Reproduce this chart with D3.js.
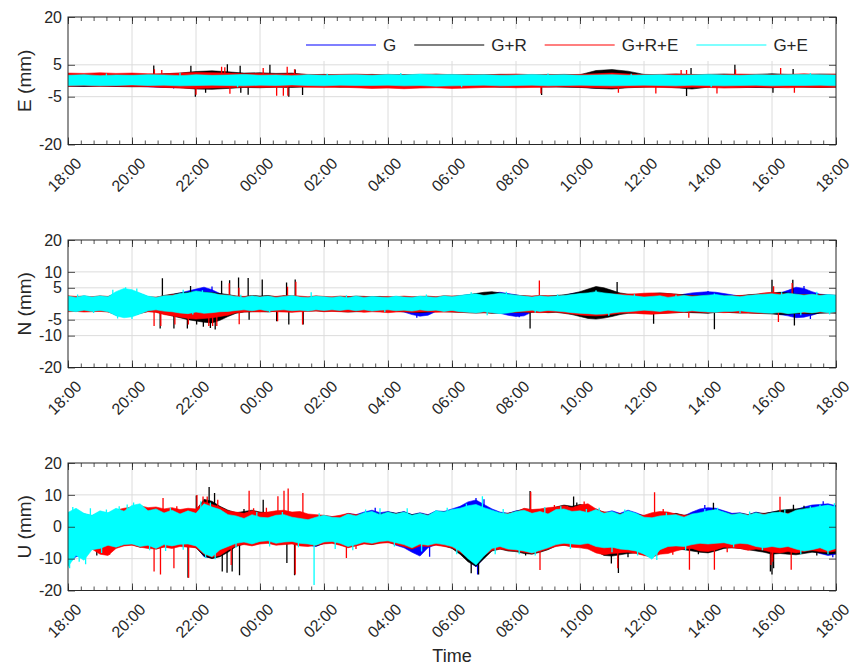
<!DOCTYPE html>
<html>
<head>
<meta charset="utf-8">
<script src="https://cdn.jsdelivr.net/npm/d3@7/dist/d3.min.js"></script>
<style>
  body { margin: 0; background: #ffffff; }
  svg text { font-family: "Liberation Sans", Arial, Helvetica, sans-serif; fill: #262626; }
  .tick text { font-size: 16px; }
</style>
</head>
<body>
<svg id="chart" width="860" height="665"></svg>
<script>
// ---- Time axis (hours after 18:00) ----
const timeLabels = ["18:00","20:00","22:00","00:00","02:00","04:00","06:00",
                    "08:00","10:00","12:00","14:00","16:00","18:00"];
const seriesNames = ["G", "G+R", "G+R+E", "G+E"];
const seriesColors = ["#0000ff", "#000000", "#ff0000", "#00ffff"];

const E_yTicks = [-20, -5, 5, 20];
const N_yTicks = [-20, -10, -5, 5, 10, 20];
const U_yTicks = [-20, -10, 0, 10, 20];

// Each series: per-interval maximum / minimum (mm) over the 24 h window,
// plus individual excursions [hour, mm].

// ---- E component (30-min steps) ----
const E_G_hi   = [1.6,1.7,1.5,1.6,1.6,1.7,1.6,1.5,1.7,1.6,1.6,1.8,1.6,1.7,1.5,1.6,1.6,1.7,1.6,1.6,1.8,1.7,1.9,1.7,1.8,1.7,1.7,1.6,1.7,1.8,1.7,1.7,1.6,1.7,1.8,1.6,1.7,1.7,1.6,1.7,1.8,1.7,1.6,1.8,1.7,1.7,1.8,1.8,1.7];
const E_G_lo   = [-1.6,-1.7,-1.6,-1.8,-1.7,-1.9,-2.1,-2.0,-1.8,-1.9,-1.8,-1.7,-1.8,-1.7,-1.6,-1.8,-1.7,-1.8,-1.9,-1.7,-1.8,-1.7,-1.9,-1.8,-1.7,-1.8,-1.9,-1.8,-1.7,-1.8,-1.9,-1.8,-2.0,-2.3,-2.1,-1.8,-1.7,-1.9,-1.8,-1.7,-1.8,-1.7,-2.0,-2.1,-1.9,-1.8,-1.7,-1.9,-1.8];
const E_GR_hi  = [1.5,1.6,1.5,1.6,1.5,1.7,2.2,2.4,2.9,3.1,2.8,2.4,2.5,2.3,2.4,1.9,2.0,1.8,1.9,2.0,1.8,1.9,1.8,2.0,1.9,1.8,1.9,2.0,1.9,1.8,1.9,2.0,1.9,3.2,3.5,3.0,2.0,1.9,2.1,1.9,2.0,2.1,1.9,2.0,2.2,2.0,1.9,2.1,2.0];
const E_GR_lo  = [-1.7,-1.8,-1.7,-1.8,-1.9,-1.8,-2.0,-2.2,-2.6,-2.7,-2.4,-2.1,-2.2,-2.0,-2.1,-1.9,-1.8,-2.0,-1.9,-1.8,-1.9,-2.0,-1.8,-1.9,-2.0,-1.9,-1.8,-2.0,-1.9,-1.8,-1.9,-2.0,-2.1,-2.4,-2.6,-2.2,-2.0,-1.9,-2.2,-2.6,-2.0,-1.9,-2.0,-2.1,-2.2,-1.9,-2.0,-2.1,-2.0];
const E_GRE_hi = [2.4,2.3,2.5,2.3,2.4,2.2,2.2,2.4,2.6,2.5,2.4,2.2,2.3,2.1,2.2,2.0,1.9,2.0,2.1,1.9,2.0,1.9,2.0,2.1,1.9,2.0,1.9,2.0,2.1,1.9,2.0,1.9,2.0,2.2,2.4,2.1,1.9,2.0,2.1,2.0,1.9,2.0,2.1,2.0,1.9,2.0,2.2,2.0,2.1];
const E_GRE_lo = [-1.7,-1.6,-1.8,-1.7,-1.8,-1.9,-2.1,-2.3,-2.4,-2.3,-2.2,-2.0,-2.1,-2.0,-1.9,-2.0,-2.1,-2.0,-2.2,-2.4,-2.3,-2.5,-2.3,-2.2,-2.4,-2.3,-2.1,-2.0,-2.2,-2.1,-2.0,-1.9,-2.0,-2.2,-2.3,-2.1,-2.0,-2.1,-2.2,-2.0,-2.1,-2.3,-2.2,-2.0,-2.1,-2.2,-2.0,-2.1,-2.0];
const E_GE_hi  = [1.7,1.9,1.6,1.8,1.7,1.9,1.8,1.6,1.9,1.7,1.8,2.0,1.7,1.8,1.6,1.9,1.7,1.8,1.9,1.7,2.0,1.8,2.1,1.9,2.0,1.8,1.9,1.7,1.8,2.0,1.8,1.9,1.7,1.8,1.9,1.7,1.8,1.9,1.7,1.8,2.0,1.8,1.7,1.9,1.8,1.9,2.0,1.9,1.8];
const E_GE_lo  = [-1.5,-1.4,-1.6,-1.5,-1.3,-1.5,-1.4,-1.6,-1.5,-1.4,-1.5,-1.6,-1.4,-1.5,-1.3,-1.5,-1.6,-1.4,-1.5,-1.5,-1.4,-1.6,-1.5,-1.7,-1.6,-1.5,-1.4,-1.6,-1.5,-1.4,-1.6,-1.5,-1.4,-1.5,-1.6,-1.5,-1.4,-1.5,-1.6,-1.4,-1.5,-1.6,-1.5,-1.4,-1.6,-1.5,-1.5,-1.4,-1.6];
const E_G_spk   = [[3.3,-2.4],[16.9,-2.6],[21.2,-2.3]];
const E_GR_spk  = [[2.68,4.8],[3.84,4.7],[3.98,-5.0],[4.3,-3.8],[4.98,5.2],[5.38,4.7],[5.4,-3.8],[5.63,-4.4],[6.31,5.0],[6.9,-5.0],[7.1,3.5],[7.33,-4.5],[14.8,-4.5],[19.33,-4.8],[19.47,4.0],[20.84,5.0],[22.03,-3.8],[22.66,3.7]];
const E_GRE_spk = [[2.7,3.6],[2.93,3.4],[4.0,-4.4],[4.8,4.4],[4.9,4.2],[5.06,-4.1],[6.1,4.0],[6.52,-4.7],[6.73,-4.7],[6.85,4.4],[6.87,-4.7],[7.08,3.6],[14.78,-4.0],[17.2,-3.8],[18.37,-4.0],[19.16,3.4],[19.33,3.4],[20.28,-4.0],[20.86,3.5],[22.27,4.0],[22.7,-3.8]];
const E_GE_spk  = [[1.2,2.3],[3.5,2.4],[5.3,-2.0],[8.1,2.2],[10.4,2.4],[12.3,-2.0],[15.0,2.3],[17.6,2.2],[20.1,-2.0],[23.2,2.4]];

// ---- N component (15-min steps) ----
const N_G_hi   = [2.2,1.9,2.4,2.0,2.3,2.1, 3.4,4.2,4.0,3.2, 2.2,1.9,2.3, 2.8,3.4,4.0,4.6,5.2,4.4,3.2,2.6,
                  2.1,1.9,2.3,2.0,2.2,1.9,2.1,2.4,2.0,1.9,2.2,2.1, 1.9,2.1,1.8,2.2,1.9,2.2,2.0,1.9,2.3,2.0,1.9,2.2,2.1,1.9,2.3,2.1,
                  2.5,2.8,3.0,3.2,3.4,3.6,3.2,2.8, 2.3,2.0,2.4,2.1,2.3,2.6,3.2,3.6, 4.2,4.6,4.0,3.4,2.8,2.5,
                  2.3,2.0,2.2,2.4,2.0,2.4,3.0,3.4,3.6,3.8, 3.6,3.2,2.8,2.4, 2.6,2.8,3.0,3.0,3.4,4.2,5.2,4.8,3.8,3.0,2.8,2.6];
const N_G_lo   = [-2.0,-2.3,-1.9,-2.2,-2.0,-2.3, -3.6,-4.0,-3.8,-3.0, -2.0,-1.8,-2.2, -2.4,-2.7,-3.0,-3.2,-3.4,-3.0,-2.6,-2.3,
                  -2.0,-1.8,-2.1,-1.8,-2.2,-1.9,-1.8,-2.1,-1.9,-2.2,-1.8,-2.0, -1.8,-2.0,-1.8,-2.1,-1.8,-2.2,-2.0,-1.9,-2.2,-2.6,-3.4,-3.9,-3.6,-2.4,-2.3,-2.0,
                  -2.4,-2.6,-2.8,-2.6,-2.8,-3.0,-3.6,-4.0, -3.8,-2.6,-2.3,-2.0,-2.2,-2.4,-2.8,-3.0, -3.4,-3.6,-3.4,-2.8,-2.5,-2.4,
                  -2.2,-1.9,-2.1,-2.3,-1.9,-2.2,-2.4,-2.6,-2.7,-2.8, -2.6,-2.3,-2.3,-2.1, -2.4,-2.6,-2.8,-3.0,-3.4,-3.8,-4.4,-4.2,-3.6,-2.8,-2.8,-2.5];
const N_GR_hi  = [1.9,2.1,1.8,2.0,1.9,2.2, 3.0,3.4,3.2,2.8, 2.0,1.9,2.6, 3.0,3.4,3.6,3.8,3.6,3.5,3.2,2.9,
                  2.4,2.2,2.6,2.4,2.6,2.2,2.5,2.3,2.2,2.0,2.3,2.1, 2.0,2.3,2.2,2.4,2.3,2.2,2.3,2.1,2.0,2.2,2.1,2.2,2.3,2.1,2.4,2.3,
                  2.5,2.8,3.2,3.6,3.8,3.4,2.9,2.7, 2.5,2.3,2.5,2.4,2.6,2.8,3.2,3.8, 4.6,5.4,5.0,4.2,3.4,3.0,
                  2.9,3.0,3.2,3.4,3.2,3.0,2.8,2.6,2.5,2.6, 2.4,2.5,2.4,2.5, 2.8,3.0,3.2,3.4,3.6,3.4,3.0,2.9,2.8,2.9,2.7,2.6];
const N_GR_lo  = [-2.2,-2.4,-2.1,-2.3,-2.2,-2.5, -3.4,-3.8,-3.6,-3.0, -2.4,-2.6,-3.2, -3.8,-4.4,-5.0,-5.4,-5.8,-6.0,-5.2,-4.0,
                  -3.0,-2.6,-2.5,-2.4,-2.6,-2.3,-2.4,-2.5,-2.2,-2.3,-2.2,-2.4, -2.3,-2.4,-2.6,-2.5,-2.4,-2.2,-2.3,-2.2,-2.4,-2.5,-2.6,-2.8,-2.6,-2.4,-2.5,-2.6,
                  -2.7,-2.8,-2.9,-2.8,-3.0,-2.9,-2.8,-2.7, -2.6,-2.7,-2.6,-2.8,-2.7,-3.0,-3.4,-4.0, -4.6,-4.8,-4.5,-4.0,-3.4,-3.0,
                  -2.9,-3.0,-3.1,-3.0,-2.9,-2.8,-2.7,-2.8,-2.9,-3.0, -2.7,-2.6,-2.8,-2.9, -2.9,-3.0,-3.1,-3.2,-3.4,-3.3,-3.0,-3.1,-3.2,-3.0,-2.9,-3.0];
const N_GRE_hi = [2.5,2.3,2.4,2.2,2.5,2.3, 3.2,3.6,3.4,3.0, 2.2,2.1,2.5, 2.8,3.0,3.2,3.0,3.3,3.1,2.9,2.7,
                  2.4,2.3,2.5,2.2,2.4,2.3,2.5,2.6,2.4,2.2,2.5,2.3, 2.2,2.4,2.3,2.2,2.3,2.1,2.2,2.3,2.2,2.4,2.2,2.3,2.4,2.2,2.5,2.4,
                  2.5,2.6,2.7,2.6,2.8,2.9,2.7,2.6, 2.5,2.4,2.6,2.5,2.4,2.6,2.8,3.0, 3.0,3.1,2.9,3.0,3.1,3.0,
                  3.1,3.3,3.4,3.3,3.2,3.0,2.6,2.5,2.4,2.5, 2.6,2.4,2.5,2.6, 2.7,2.9,3.4,3.6,3.2,3.0,2.9,2.8,2.9,2.8,2.7,2.6];
const N_GRE_lo = [-2.5,-2.4,-2.6,-2.5,-2.4,-2.6, -3.4,-3.6,-3.5,-3.0, -2.5,-2.7,-3.4, -3.8,-4.2,-4.6,-4.8,-4.6,-4.4,-4.0,-3.6,
                  -2.8,-2.6,-2.5,-2.6,-2.4,-2.5,-2.6,-2.7,-2.5,-2.4,-2.3,-2.5, -2.4,-2.5,-2.6,-2.4,-2.7,-2.5,-2.6,-2.8,-2.6,-2.5,-2.7,-2.6,-2.5,-2.7,-2.6,-2.6,
                  -2.7,-2.8,-2.9,-2.8,-2.9,-2.8,-2.7,-2.7, -2.6,-2.7,-2.8,-2.7,-2.6,-2.9,-3.2,-3.5, -3.7,-3.8,-3.6,-3.3,-3.0,-2.9,
                  -3.0,-3.2,-3.3,-3.1,-3.0,-2.8,-2.7,-2.6,-2.7,-2.8, -2.7,-2.8,-2.7,-2.9, -2.9,-3.0,-3.0,-2.9,-2.8,-2.9,-2.8,-2.9,-2.8,-2.7,-2.8,-2.7];
const N_GE_hi  = [2.4,2.0,2.6,2.1,2.5,2.2, 3.8,4.8,4.4,3.4, 2.4,2.0,2.5, 2.6,3.2,3.4,4.0,3.6,3.4,2.8,2.7,
                  2.3,2.0,2.5,2.1,2.4,2.0,2.3,2.6,2.1,2.0,2.4,2.2, 2.0,2.3,1.9,2.4,2.0,2.3,2.1,2.0,2.4,2.1,2.0,2.4,2.2,2.0,2.5,2.2,
                  2.6,2.9,3.1,2.6,2.9,3.3,3.0,2.7, 2.4,2.1,2.5,2.2,2.4,2.6,2.9,3.2, 3.4,3.8,3.4,3.1,2.8,2.6,
                  2.4,2.1,2.3,2.5,2.0,2.3,2.6,2.3,2.5,2.7, 2.9,2.5,2.5,2.2, 2.6,2.8,3.0,3.1,2.8,3.3,3.0,2.7,3.0,2.6,2.9,2.7];
const N_GE_lo  = [-2.2,-2.5,-2.0,-2.4,-2.1,-2.5, -3.8,-4.4,-4.1,-3.2, -2.2,-1.9,-2.3, -2.5,-2.9,-3.1,-2.6,-3.0,-2.8,-2.5,-2.4,
                  -2.1,-1.9,-2.2,-1.8,-2.3,-2.0,-1.9,-2.2,-2.0,-2.3,-1.9,-2.1, -1.9,-2.1,-1.8,-2.2,-1.9,-2.3,-2.0,-1.9,-2.2,-2.0,-2.3,-1.9,-2.2,-2.0,-2.4,-2.1,
                  -2.5,-2.7,-2.9,-2.5,-2.8,-3.1,-2.9,-2.5, -2.3,-2.0,-2.4,-2.1,-2.3,-2.5,-2.8,-3.0, -3.1,-3.3,-3.2,-2.9,-2.6,-2.5,
                  -2.3,-2.0,-2.2,-2.4,-2.0,-2.3,-2.5,-2.2,-2.4,-2.6, -2.7,-2.4,-2.4,-2.2, -2.5,-2.7,-2.9,-3.0,-2.7,-3.1,-2.9,-2.6,-2.9,-2.5,-2.8,-2.6];
const N_G_spk   = [[4.5,5.4],[10.9,-4.4],[14.1,-4.2],[16.7,4.8],[20.0,4.0],[23.0,5.6],[23.2,-4.8]];
const N_GR_spk  = [[2.95,8.0],[2.88,-7.8],[3.31,-7.8],[3.73,-7.8],[3.83,5.6],[4.02,-6.5],[4.23,-7.2],[4.45,-7.6],[4.6,-8.1],[4.8,7.2],[5.05,7.4],[5.33,8.2],[5.63,8.1],[5.66,-5.0],[6.07,7.6],[6.52,-5.5],[6.83,6.7],[6.9,-6.5],[7.1,7.6],[7.35,-6.5],[14.44,-7.8],[17.16,6.8],[18.3,-6.3],[20.2,-8.0],[22.0,7.5],[22.65,7.5],[22.7,-6.8]];
const N_GRE_spk = [[2.69,-7.0],[2.9,-7.0],[3.34,-6.5],[3.76,-6.5],[4.05,-4.3],[4.4,-7.0],[4.52,-7.0],[4.65,-7.0],[5.04,6.4],[5.34,5.0],[5.35,-6.4],[6.55,-5.5],[6.86,5.3],[7.12,6.9],[7.33,-6.5],[14.73,7.3],[19.4,-4.4],[22.05,5.5],[22.2,-5.7],[22.63,6.5]];
const N_GE_spk  = [[0.3,2.9],[0.8,-2.9],[1.4,4.4],[1.55,-4.6],[1.8,5.2],[2.0,-4.8],[2.15,4.8],[3.6,4.4],[3.9,-3.4],[4.2,4.2],[5.4,2.8],[6.3,-2.7],[7.6,3.6],[8.7,2.7],[9.9,-2.7],[11.2,2.9],[12.6,3.6],[13.1,-3.6],[13.7,3.8],[14.6,-2.8],[15.3,2.9],[16.5,4.2],[16.9,-3.8],[17.7,3.0],[19.0,2.8],[20.2,3.2],[21.0,-3.0],[22.3,3.6],[22.9,-3.6],[23.4,3.8],[23.8,-3.4]];

// ---- U component (15-min steps) ----
const U_G_hi   = [4.0,5.2,4.0,3.4,4.6,4.2,5.4,4.8,6.2, 6.6,4.8,5.2,4.2,4.8,4.0,4.6,4.4, 7.4,6.6,5.2,4.0,
                  3.6,3.0,3.8,3.4,3.0,3.4,3.6,3.2,2.8,2.6,3.0,3.4, 3.2,3.0,4.2,3.8,4.6,5.2,4.4,4.8,4.2,4.8,3.8,4.4,3.8,5.0,4.8,5.6,
                  6.4,7.8,8.4,7.0,5.6,4.6,4.2,5.0, 5.4,4.6,5.0,4.4,5.6,6.0,5.4,5.6, 4.8,5.6,4.4,5.0,4.2,5.2,4.4,3.4,
                  3.2,3.6,3.8,4.0,3.4,4.6,5.6,6.0, 5.8,5.0,4.2,4.4,3.8,4.6,4.0,4.6, 4.8,4.4,5.4,6.2,6.8,7.0,7.2,6.6];
const U_G_lo   = [-11.5,-9.4,-9.0,-7.0,-6.6,-6.0,-6.2,-5.6,-5.4, -6.0,-5.6,-6.6,-5.4,-6.0,-5.4,-5.4,-6.2, -9.4,-9.8,-8.0,-6.6,
                  -5.4,-5.0,-5.4,-4.8,-4.6,-5.4,-5.0,-4.8,-5.4,-5.8,-6.2,-5.2, -4.8,-5.4,-6.0,-5.8,-5.0,-5.4,-4.8,-4.6,-5.8,-6.6,-8.0,-9.2,-6.6,-5.6,-5.8,-6.4,
                  -8.0,-10.6,-12.6,-9.8,-7.2,-6.6,-7.2,-7.4, -7.8,-8.0,-7.6,-6.8,-5.8,-5.4,-5.6,-5.8, -5.6,-6.6,-7.0,-6.8,-7.2,-7.4,-7.8,-8.6,
                  -9.8,-7.6,-6.6,-6.4,-6.4,-5.8,-5.6,-5.8, -5.6,-5.2,-6.0,-6.0,-6.2,-7.0,-7.2,-6.6, -7.0,-6.6,-7.2,-7.8,-7.6,-8.4,-9.0,-8.6];
const U_GR_hi  = [4.2,5.0,3.8,3.2,4.4,3.8,5.0,5.2,5.8, 6.2,5.2,5.4,4.6,5.0,4.4,4.8,5.2, 8.6,8.0,6.4,5.2,
                  4.4,4.8,5.2,4.6,4.4,4.0,4.2,3.8,3.6,3.0,3.2,3.4, 3.0,3.2,4.0,3.6,4.2,4.4,3.8,4.6,4.2,4.6,3.8,4.2,3.6,4.8,4.6,5.0,
                  5.4,6.2,6.4,5.6,4.8,4.2,4.2,4.8, 5.6,5.2,5.4,5.6,6.2,6.8,6.4,7.0, 6.6,5.2,4.6,4.4,4.0,4.4,4.0,3.4,
                  3.6,4.0,3.8,4.2,3.6,3.8,4.2,4.8, 5.0,4.4,3.8,4.2,3.8,4.4,4.2,4.6, 5.2,5.4,5.6,5.8,6.0,5.8,6.2,6.0];
const U_GR_lo  = [-10.5,-8.6,-8.0,-6.6,-6.8,-6.2,-6.0,-5.8,-5.6, -6.4,-6.0,-7.0,-6.2,-6.4,-5.8,-6.0,-6.6, -9.2,-10.0,-9.4,-8.0,
                  -6.2,-5.4,-5.6,-5.0,-5.0,-5.6,-5.4,-5.2,-5.6,-5.8,-6.0,-5.2, -5.0,-5.6,-6.4,-5.8,-5.2,-5.6,-5.0,-4.8,-5.4,-6.0,-7.0,-5.8,-6.0,-5.6,-6.0,-6.8,
                  -8.6,-11.0,-12.4,-10.0,-7.6,-7.0,-7.6,-7.8, -8.4,-8.6,-8.0,-7.2,-6.0,-5.8,-6.0,-6.2, -6.4,-7.6,-9.0,-9.2,-8.8,-8.4,-8.2,-8.8,
                  -9.4,-8.2,-7.8,-7.0,-7.2,-7.6,-8.0,-8.2, -7.6,-6.8,-6.6,-6.8,-7.2,-7.6,-8.0,-8.6, -8.4,-8.6,-8.8,-8.4,-8.0,-8.2,-8.6,-8.4];
const U_GRE_hi = [4.0,4.6,4.0,3.4,4.6,4.0,5.2,5.8,6.2, 6.6,6.0,6.2,5.6,6.0,5.4,5.8,5.6, 7.8,7.0,6.2,5.0,
                  4.6,4.2,5.0,4.4,4.6,5.0,5.2,4.6,4.8,4.0,3.8,3.6, 3.2,3.6,4.2,3.8,4.0,4.2,3.6,4.2,4.0,4.4,3.4,4.0,3.6,4.4,4.2,4.8,
                  4.8,5.4,5.6,5.2,4.6,4.0,4.2,4.6, 5.8,5.4,5.6,6.0,6.2,6.6,6.0,6.8, 7.2,5.6,4.6,4.4,4.0,4.2,3.8,3.6,
                  4.4,4.8,4.6,4.0,3.6,3.8,4.0,4.4, 4.6,4.2,3.8,4.0,3.8,4.2,4.0,4.2, 4.4,4.2,4.8,5.0,5.4,5.2,5.6,5.4];
const U_GRE_lo = [-9.5,-8.4,-8.0,-7.0,-8.6,-9.0,-6.8,-6.0,-5.8, -6.4,-6.8,-7.0,-6.4,-6.8,-6.2,-6.4,-6.6, -8.6,-9.6,-9.0,-7.4,
                  -6.0,-5.6,-6.0,-5.4,-5.2,-5.8,-5.6,-5.4,-6.0,-6.2,-5.8,-5.4, -5.2,-5.8,-6.6,-6.0,-5.4,-5.6,-5.2,-5.0,-5.6,-6.2,-7.0,-6.0,-6.2,-5.8,-6.2,-6.6,
                  -8.0,-9.6,-10.4,-9.0,-7.4,-7.0,-7.4,-7.6, -8.0,-8.4,-7.8,-7.0,-6.2,-5.8,-6.4,-6.6, -7.0,-8.2,-8.8,-8.4,-8.2,-8.0,-8.4,-9.0,
                  -9.6,-8.6,-8.4,-7.6,-7.0,-6.8,-7.6,-7.8, -7.2,-6.4,-6.6,-6.8,-7.4,-7.0,-7.4,-8.0, -8.2,-7.8,-8.2,-7.8,-7.4,-7.8,-8.0,-7.6];
const U_GE_hi  = [4.5,5.8,4.2,3.6,5.0,4.4,5.8,4.9,6.7, 7.2,5.0,5.6,4.3,5.2,4.0,5.0,4.2, 7.2,6.2,5.4,3.8,
                  3.4,2.6,3.8,3.0,2.8,3.6,3.8,3.0,2.6,2.2,3.0,3.6, 3.0,2.8,4.0,3.4,4.4,4.8,3.8,4.6,4.0,4.6,3.6,4.2,3.5,5.0,4.6,5.4,
                  5.8,6.6,7.0,6.0,5.2,4.4,4.0,4.8, 5.2,4.2,4.8,4.0,5.4,5.6,4.8,5.0, 4.4,5.4,4.2,4.8,3.8,5.0,4.2,3.0,
                  2.8,3.4,3.6,3.8,3.0,4.0,4.4,5.0, 5.4,4.6,3.8,4.2,3.6,4.4,3.8,4.4, 4.6,4.0,5.2,5.6,6.0,6.4,6.8,6.2];
const U_GE_lo  = [-12.5,-9.0,-10.5,-7.2,-6.8,-5.8,-6.4,-5.6,-5.4, -6.2,-5.8,-6.8,-5.6,-6.0,-5.5,-5.4,-6.0, -8.4,-9.4,-7.2,-6.2,
                  -5.2,-4.8,-5.4,-4.6,-4.4,-5.2,-4.8,-4.6,-5.2,-5.4,-5.8,-4.8, -4.6,-5.2,-6.2,-5.6,-4.8,-5.2,-4.6,-4.4,-5.0,-5.6,-6.6,-5.4,-5.8,-5.2,-5.6,-6.2,
                  -7.6,-10.0,-12.0,-9.2,-6.8,-6.2,-7.0,-7.2, -7.6,-8.2,-7.4,-6.6,-5.6,-5.2,-5.4,-5.6, -5.2,-6.2,-6.6,-6.4,-7.0,-7.2,-7.6,-8.6,
                  -10.2,-7.2,-6.2,-6.0,-6.2,-5.6,-5.2,-5.4, -5.2,-5.0,-5.6,-5.2,-5.4,-6.2,-6.6,-6.2, -6.6,-6.2,-7.0,-7.6,-7.2,-6.6,-7.6,-6.8];
const U_G_spk   = [[9.6,6.0],[11.3,-9.4],[12.75,9.0],[12.8,-15.0],[13.0,8.6],[19.9,6.8],[23.6,8.0],[23.9,-9.6]];
const U_GR_spk  = [[0.9,-9.0],[3.75,-16.0],[4.01,9.8],[4.41,12.5],[4.58,10.6],[4.82,-14.0],[4.97,-14.4],[5.13,-14.0],[5.36,-15.2],[5.5,5.6],[6.1,8.5],[6.84,-11.4],[7.08,-15.2],[12.6,-14.6],[12.83,-15.0],[14.3,-9.0],[14.44,11.2],[15.8,9.5],[15.9,7.6],[16.98,-11.5],[17.2,-14.5],[17.5,-9.6],[19.7,-8.6],[20.17,7.5],[21.95,-14.0],[22.0,-15.0],[22.05,-13.0],[22.67,6.9],[23.0,6.6],[23.4,-9.0]];
const U_GRE_spk = [[1.0,-8.0],[1.3,-8.8],[2.69,-14.0],[2.89,-15.0],[2.97,9.0],[3.31,-13.0],[3.4,6.4],[3.77,-16.0],[4.03,10.0],[4.22,9.5],[4.35,9.5],[4.68,8.5],[5.1,-12.0],[5.66,11.3],[5.8,5.8],[6.2,6.0],[6.56,9.6],[6.75,11.3],[6.88,12.0],[7.1,-15.0],[7.34,10.6],[8.7,-9.8],[9.0,-7.0],[14.46,11.0],[14.75,-13.6],[15.2,6.8],[15.6,6.6],[16.13,7.9],[17.18,-13.0],[18.33,10.8],[18.6,5.6],[18.9,-8.8],[19.42,-13.5],[20.2,-13.5],[20.6,-8.0],[21.97,-12.0],[22.02,-11.0],[22.25,9.4],[22.6,-13.5],[23.8,6.3]];
const U_GE_spk  = [[0.05,-13.0],[0.15,6.2],[0.35,-11.0],[0.55,-11.8],[0.7,5.8],[1.05,-8.2],[1.2,5.4],[1.6,6.4],[1.85,7.0],[2.05,7.6],[2.3,6.8],[2.55,-7.4],[3.05,-7.6],[3.2,6.0],[3.6,-7.2],[4.15,8.0],[4.3,-9.8],[4.45,7.6],[4.6,-10.2],[5.25,-6.6],[5.9,4.6],[6.3,-6.2],[6.7,4.6],[7.2,-6.4],[7.69,-18.3],[7.85,4.2],[8.35,-7.0],[8.9,-7.4],[9.3,5.4],[9.75,5.8],[10.2,-6.2],[10.6,5.8],[11.05,-7.8],[11.5,5.2],[11.85,6.0],[12.15,-8.6],[12.45,7.2],[12.95,9.6],[13.35,-8.6],[13.6,5.6],[14.1,-8.6],[14.6,-9.0],[14.9,6.2],[15.4,6.4],[15.7,-7.0],[16.2,5.6],[16.6,6.0],[17.0,-8.0],[17.4,5.4],[17.8,-9.0],[18.4,-10.4],[18.7,4.4],[19.3,-7.4],[19.9,5.6],[20.3,6.0],[20.8,-6.4],[21.3,4.8],[21.7,-7.4],[22.4,5.4],[22.9,-8.6],[23.2,6.4],[23.5,7.0],[23.75,-8.6],[23.95,7.4]];

// ---- assemble panels ----
const panels = [
  { label: "E (mm)", yTicks: E_yTicks,
    bands: [[E_G_hi,E_G_lo,E_G_spk],[E_GR_hi,E_GR_lo,E_GR_spk],[E_GRE_hi,E_GRE_lo,E_GRE_spk],[E_GE_hi,E_GE_lo,E_GE_spk]] },
  { label: "N (mm)", yTicks: N_yTicks,
    bands: [[N_G_hi,N_G_lo,N_G_spk],[N_GR_hi,N_GR_lo,N_GR_spk],[N_GRE_hi,N_GRE_lo,N_GRE_spk],[N_GE_hi,N_GE_lo,N_GE_spk]] },
  { label: "U (mm)", yTicks: U_yTicks,
    bands: [[U_G_hi,U_G_lo,U_G_spk],[U_GR_hi,U_GR_lo,U_GR_spk],[U_GRE_hi,U_GRE_lo,U_GRE_spk],[U_GE_hi,U_GE_lo,U_GE_spk]] }
];

const svg = d3.select("#chart");
const X0 = 68, X1 = 836;
const x = d3.scaleLinear().domain([0, 24]).range([X0, X1]);
const majorTicks = d3.range(0, 24.001, 2);
const minorTicks = d3.range(0, 24.001, 0.4);
const gridColor = "#dcdcdc", axisColor = "#262626";

panels.forEach((p, pi) => {
  const top = 17 + pi * 223, bot = top + 127.5;
  const y = d3.scaleLinear().domain([-20, 20]).range([bot, top]);
  const g = svg.append("g");

  // grid
  g.append("g").selectAll("line").data(majorTicks.slice(1, -1)).join("line")
    .attr("x1", d => x(d)).attr("x2", d => x(d)).attr("y1", top).attr("y2", bot)
    .attr("stroke", gridColor).attr("stroke-width", 1);
  g.append("g").selectAll("line").data(p.yTicks.filter(v => v > -20 && v < 20)).join("line")
    .attr("x1", X0).attr("x2", X1).attr("y1", d => y(d)).attr("y2", d => y(d))
    .attr("stroke", gridColor).attr("stroke-width", 1);

  // data: envelope of each series, then its excursions; G+E drawn last
  const clipId = "clip" + pi;
  svg.append("clipPath").attr("id", clipId).append("rect")
    .attr("x", X0).attr("y", top).attr("width", X1 - X0).attr("height", bot - top);
  const dg = g.append("g").attr("clip-path", `url(#${clipId})`);
  const area = d3.area().x(d => x(d.t)).y0(d => y(d.lo)).y1(d => y(d.hi));

  p.bands.forEach(([hi, lo, spk], si) => {
    const col = seriesColors[si];
    const rows = hi.map((h, i) => ({ t: i * 24 / (hi.length - 1), hi: h, lo: lo[i] }));
    dg.append("path").datum(rows).attr("d", area)
      .attr("fill", col).attr("stroke", col).attr("stroke-width", 0.6).attr("stroke-linejoin", "round");
    dg.append("g").selectAll("line").data(spk).join("line")
      .attr("x1", d => x(d[0])).attr("x2", d => x(d[0]))
      .attr("y1", y(0)).attr("y2", d => y(d[1]))
      .attr("stroke", col).attr("stroke-width", 1.3);
  });

  // legend (top panel)
  if (pi === 0) {
    const lg = g.append("g");
    lg.append("rect").attr("x", 296).attr("y", 29).attr("width", 534).attr("height", 32).attr("fill", "#fff");
    let cx = 306;
    seriesNames.forEach((name, si) => {
      lg.append("line").attr("x1", cx).attr("x2", cx + 70).attr("y1", 45).attr("y2", 45)
        .attr("stroke", seriesColors[si]).attr("stroke-width", 1.2);
      const t = lg.append("text").attr("x", cx + 77).attr("y", 51).style("font-size", "17px").text(name);
      cx += 77 + t.node().getComputedTextLength() + 18;
    });
  }

  // axes
  const ax = g.append("g").attr("color", axisColor);
  const yl = ax.append("g").attr("transform", `translate(${X0},0)`)
    .call(d3.axisLeft(y).tickValues(p.yTicks).tickSize(-7).tickSizeOuter(0).tickPadding(6)
      .tickFormat(d => String(d)));
  const yr = ax.append("g").attr("transform", `translate(${X1},0)`)
    .call(d3.axisRight(y).tickValues(p.yTicks).tickSize(-7).tickSizeOuter(0).tickFormat(""));
  const xb = ax.append("g").attr("transform", `translate(0,${bot})`)
    .call(d3.axisBottom(x).tickValues(majorTicks).tickSize(-7).tickSizeOuter(0)
      .tickFormat((d, i) => timeLabels[i]));
  const xbm = ax.append("g").attr("transform", `translate(0,${bot})`)
    .call(d3.axisBottom(x).tickValues(minorTicks).tickSize(-4).tickSizeOuter(0).tickFormat(""));
  const xt = ax.append("g").attr("transform", `translate(0,${top})`)
    .call(d3.axisTop(x).tickValues(majorTicks).tickSize(-7).tickSizeOuter(0).tickFormat(""));
  const xtm = ax.append("g").attr("transform", `translate(0,${top})`)
    .call(d3.axisTop(x).tickValues(minorTicks).tickSize(-4).tickSizeOuter(0).tickFormat(""));
  [yl, yr, xb, xbm, xt, xtm].forEach(a => a.select(".domain").remove());
  ax.selectAll(".tick line").attr("stroke-width", 0.8);
  xb.selectAll(".tick text")
    .attr("x", 0).attr("y", 0).attr("dy", "0.35em")
    .attr("text-anchor", "end")
    .attr("transform", "translate(10,16) rotate(-45)");

  ax.append("rect").attr("x", X0).attr("y", top).attr("width", X1 - X0).attr("height", bot - top)
    .attr("fill", "none").attr("stroke", axisColor).attr("stroke-width", 1);

  g.append("text").attr("transform", `translate(31,${(top + bot) / 2}) rotate(-90)`)
    .attr("text-anchor", "middle").style("font-size", "19px").text(p.label);
});

svg.append("text").attr("x", (X0 + X1) / 2).attr("y", 662)
  .attr("text-anchor", "middle").style("font-size", "18px").text("Time");
</script>
</body>
</html>
